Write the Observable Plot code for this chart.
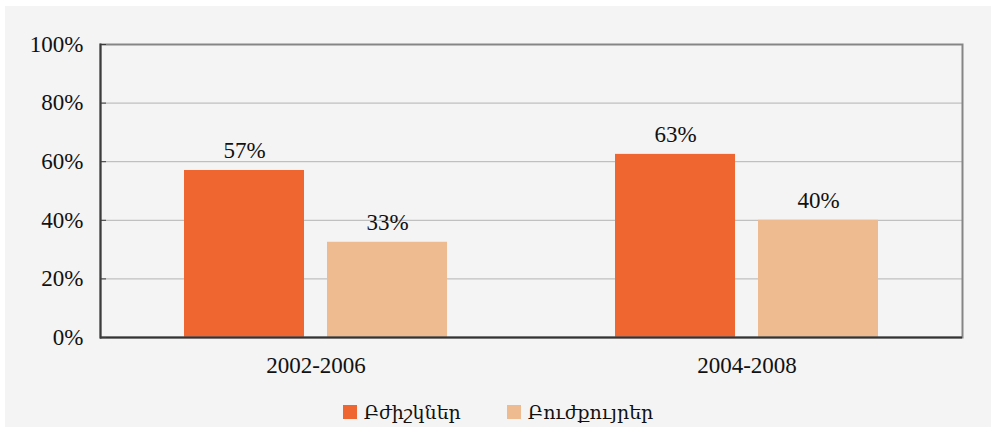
<!DOCTYPE html>
<html>
<head>
<meta charset="utf-8">
<script src="https://cdn.jsdelivr.net/npm/d3@7"></script>
<script src="https://cdn.jsdelivr.net/npm/@observablehq/plot@0.6"></script>
<style>
  html, body { margin: 0; padding: 0; background: #ffffff; }
  #panel { position: absolute; left: 5px; top: 6px; width: 986px; height: 421px; background: #f4f4f4; }
  #legend { display: flex; justify-content: center; align-items: center; height: 28px; margin-top: 12px;
            font-family: "DejaVu Serif", "Liberation Serif", serif; font-size: 19px; color: #111; }
  .item { display: flex; align-items: center; margin: 0 23px; }
  .sw { width: 14px; height: 14px; margin-right: 7px; }
</style>
</head>
<body>
<div id="panel"></div>
<script>
const groups = ["2002-2006", "2004-2008"];
const series = ["Բժիշկներ", "Բուժքույրեր"];
const colors = ["#ef6630", "#eebb90"];
const valuesDoctors = [57, 62.5];
const valuesNurses = [32.5, 40];
const labelsDoctors = ["57%", "63%"];
const labelsNurses = ["33%", "40%"];
const yTicks = [0, 20, 40, 60, 80, 100];

const data = [];
groups.forEach((g, i) => {
  data.push({group: g, series: series[0], value: valuesDoctors[i], label: labelsDoctors[i]});
  data.push({group: g, series: series[1], value: valuesNurses[i], label: labelsNurses[i]});
});

const font = "'Liberation Serif', 'Times New Roman', serif";

const chart = Plot.plot({
  width: 986,
  height: 380,
  marginLeft: 94,
  marginRight: 29,
  marginTop: 38,
  marginBottom: 49,
  style: {background: "transparent", fontFamily: font, fontSize: "23px", color: "#111"},
  fx: {domain: groups, padding: 0, label: null},
  x: {domain: series, paddingInner: 0.16, paddingOuter: 0.578, axis: null},
  y: {domain: [0, 100], axis: null},
  color: {domain: series, range: colors},
  marks: [
    Plot.gridY(yTicks.slice(1, -1), {stroke: "#b3b3b3", strokeOpacity: 1, strokeWidth: 1}),
    Plot.barY(data, {fx: "group", x: "series", y: "value", fill: "series"}),
    Plot.text(data, {fx: "group", x: "series", y: "value", text: "label", lineAnchor: "bottom", dy: -12,
      fontSize: 23, fill: "#111"}),
    Plot.frame({facet: "super", stroke: "#858585", strokeWidth: 2}),
    Plot.frame({facet: "super", anchor: "left", stroke: "#3c3c3c", strokeWidth: 2}),
    Plot.ruleY([0], {stroke: "#333333", strokeWidth: 2}),
    Plot.axisY(yTicks, {tickSize: -6, tickPadding: 23, tickFormat: d => d + "%", stroke: "#3c3c3c",
      fontSize: 23, fill: "#111", label: null}),
    Plot.axisFx({anchor: "bottom", tickSize: 0, tickPadding: 19, fontSize: 23, label: null, fill: "#111"})
  ]
});

const panel = document.getElementById("panel");
panel.appendChild(chart);

const legend = document.createElement("div");
legend.id = "legend";
series.forEach((s, i) => {
  const item = document.createElement("div");
  item.className = "item";
  const sw = document.createElement("div");
  sw.className = "sw";
  sw.style.background = colors[i];
  const t = document.createElement("span");
  t.textContent = s;
  item.appendChild(sw);
  item.appendChild(t);
  legend.appendChild(item);
});
panel.appendChild(legend);
</script>
</body>
</html>
